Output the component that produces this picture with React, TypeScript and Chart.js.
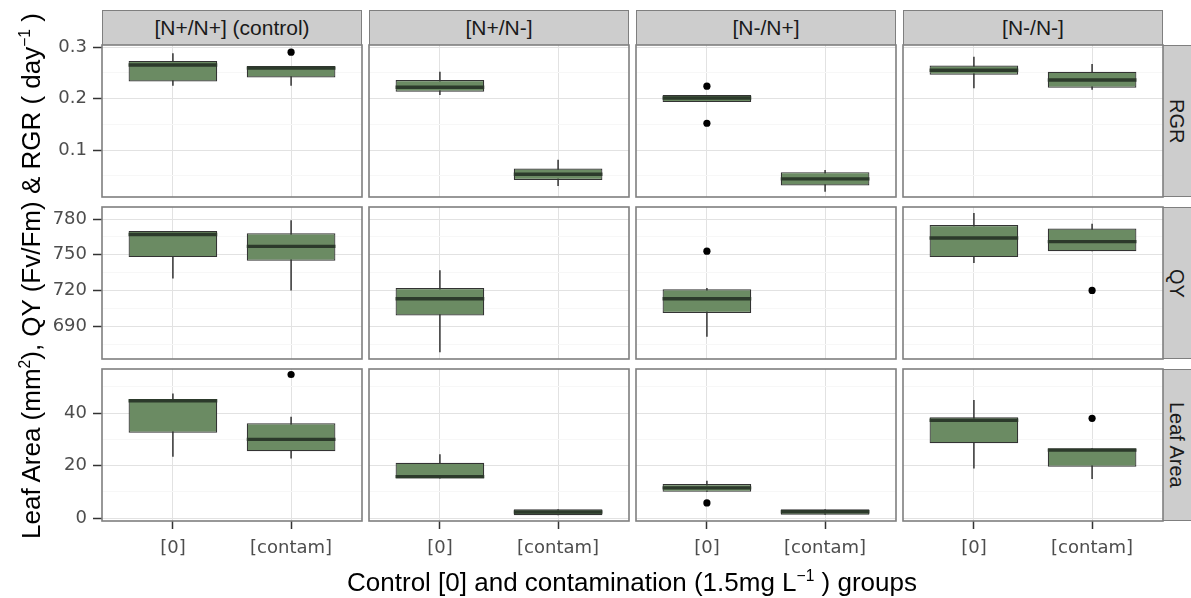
import React, { useEffect, useRef } from 'react';
import { Chart, registerables } from 'chart.js';

Chart.register(...registerables);

// ---------------- data ----------------
const GROUPS = ['[N+/N+] (control)', '[N+/N-]', '[N-/N+]', '[N-/N-]'];
const METRICS = ['RGR', 'QY', 'Leaf Area'];
const X_LABELS = ['[0]', '[contam]'];
const X_POS = [1, 2];

// five-number summaries per facet: [control, contam], each [lower whisker, Q1, median, Q3, upper whisker]
const RGR_BOX = [
  [[0.225, 0.233, 0.265, 0.273, 0.288], [0.225, 0.241, 0.259, 0.263, 0.263]],
  [[0.207, 0.213, 0.222, 0.236, 0.252], [0.030, 0.042, 0.053, 0.064, 0.081]],
  [[0.193, 0.193, 0.201, 0.207, 0.207], [0.019, 0.031, 0.044, 0.057, 0.061]],
  [[0.220, 0.246, 0.255, 0.264, 0.281], [0.217, 0.221, 0.236, 0.252, 0.267]],
];
const RGR_OUT = [[[], [0.290]], [[], []], [[0.224, 0.152], []], [[], []]];

const QY_BOX = [
  [[730, 748, 767, 770, 770], [720, 745, 757, 768, 779]],
  [[668, 699, 713, 722, 737], null],
  [[681, 701, 713, 721, 722], null],
  [[743, 748, 764, 775, 785], [753, 753, 761, 772, 776]],
];
const QY_OUT = [[[], []], [[], []], [[753], []], [[], [720]]];

const LA_BOX = [
  [[23.4, 32.5, 44.7, 45.3, 47.5], [22.7, 25.5, 30.0, 36.1, 38.6]],
  [[15.1, 15.1, 15.8, 21.1, 24.3], [1.1, 1.1, 2.3, 3.4, 3.4]],
  [[10.0, 10.0, 11.5, 13.0, 14.2], [1.3, 1.3, 2.4, 3.4, 3.4]],
  [[18.9, 28.5, 37.3, 38.4, 45.0], [14.9, 19.6, 25.9, 26.6, 26.6]],
];
const LA_OUT = [[[], [54.7]], [[], []], [[5.8], []], [[], [38.0]]];

const Y_MAJOR = [[0.1, 0.2, 0.3], [690, 720, 750, 780], [0, 20, 40]];
const Y_MINOR = [[0.05, 0.15, 0.25], [675, 705, 735, 765], [10, 30, 50]];
const Y_RANGE = [[0.0088, 0.3039], [662.4, 790.1], [-1.1, 56.8]];

const BOXES = [RGR_BOX, QY_BOX, LA_BOX];
const OUTS = [RGR_OUT, QY_OUT, LA_OUT];

// ---------------- style / layout ----------------
const FONT = "'Liberation Sans', Arial, Helvetica, sans-serif";
const TICK_FONT = "'DejaVu Sans', 'Liberation Sans', sans-serif";
const BOX_W = 0.75;
const BOX_FILL = '#6b8b63';
const DARK = '#333333';
const MEDIAN = '#2c3a2b';
const GRID_MAJOR = '#e2e2e2';
const GRID_MINOR = '#f7f7f7';
const BORDER = '#7f7f7f';
const STRIP_FILL = '#cdcdcd';

const PL = [102, 369, 636, 903];
const PW = 260;
const PT = [45, 207, 369];
const PH = 152;
const PAD = 14;
const YW = 66;
const XH = 50;

const panelPlugin = {
  id: 'panelFrame',
  beforeDraw(chart: any) {
    const { ctx, chartArea: a } = chart;
    ctx.save();
    ctx.fillStyle = '#ffffff';
    ctx.fillRect(a.left, a.top, a.right - a.left, a.bottom - a.top);
    ctx.restore();
  },
  afterDraw(chart: any) {
    const { ctx, chartArea: a } = chart;
    ctx.save();
    ctx.strokeStyle = BORDER;
    ctx.lineWidth = 1.6;
    ctx.strokeRect(a.left, a.top, a.right - a.left, a.bottom - a.top);
    ctx.restore();
  },
};

function makeConfig(r: number, c: number): any {
  const boxes = BOXES[r][c];
  const outs = OUTS[r][c];
  const boxData: any[] = [];
  const whisk: any[] = [];
  const med: any[] = [];
  const pts: any[] = [];
  boxes.forEach((b: number[] | null, i: number) => {
    if (!b) return;
    const x = X_POS[i];
    boxData.push({ x, y: [b[1], b[3]] });
    whisk.push({ x, y: b[0] }, { x, y: b[4] }, { x: x + 0.5, y: null });
    med.push({ x: x - BOX_W / 2, y: b[2] }, { x: x + BOX_W / 2, y: b[2] }, { x: x + 0.5, y: null });
    outs[i].forEach((v: number) => pts.push({ x, y: v }));
  });
  const major = Y_MAJOR[r];
  const minor = Y_MINOR[r];
  const isMinor = (v: number) => minor.some((m) => Math.abs(m - v) < 1e-9);
  const tickFont = { family: TICK_FONT, size: 18 };

  return {
    type: 'bar',
    data: {
      datasets: [
        {
          type: 'line',
          data: whisk,
          borderColor: DARK,
          borderWidth: 1.5,
          pointRadius: 0,
          spanGaps: false,
          order: 4,
        },
        {
          type: 'bar',
          data: boxData,
          backgroundColor: BOX_FILL,
          borderColor: DARK,
          borderWidth: 1.2,
          borderSkipped: false,
          barPercentage: BOX_W,
          categoryPercentage: 1,
          grouped: false,
          order: 3,
        },
        {
          type: 'line',
          data: med,
          borderColor: MEDIAN,
          borderWidth: 3.4,
          pointRadius: 0,
          spanGaps: false,
          order: 2,
        },
        {
          type: 'line',
          data: pts,
          showLine: false,
          pointRadius: 3.6,
          pointBackgroundColor: '#000000',
          pointBorderWidth: 0,
          order: 1,
        },
      ],
    },
    options: {
      responsive: false,
      animation: false,
      events: [],
      layout: { padding: { left: PAD, right: PAD, top: PAD, bottom: PAD } },
      plugins: { legend: { display: false }, tooltip: { enabled: false } },
      scales: {
        x: {
          type: 'linear',
          min: 0.4,
          max: 2.6,
          offset: false,
          bounds: 'data',
          afterBuildTicks: (s: any) => {
            s.ticks = X_POS.map((v) => ({ value: v }));
          },
          afterFit: (s: any) => {
            s.height = r === 2 ? XH : 0;
            s.paddingLeft = 0;
            s.paddingRight = 0;
          },
          ticks: {
            display: r === 2,
            autoSkip: false,
            maxRotation: 0,
            padding: 9,
            color: '#4d4d4d',
            font: tickFont,
            callback: (v: number) => {
              const i = X_POS.indexOf(v);
              return i >= 0 ? X_LABELS[i] : '';
            },
          },
          grid: {
            offset: false,
            color: GRID_MAJOR,
            lineWidth: 1,
            drawTicks: r === 2,
            tickLength: 8,
            tickColor: DARK,
            tickWidth: 1.5,
          },
          border: { display: false },
        },
        y: {
          type: 'linear',
          min: Y_RANGE[r][0],
          max: Y_RANGE[r][1],
          bounds: 'data',
          afterBuildTicks: (s: any) => {
            s.ticks = [...major, ...minor].sort((a, b) => a - b).map((v) => ({ value: v }));
          },
          afterFit: (s: any) => {
            s.width = c === 0 ? YW : 0;
            s.paddingTop = 0;
            s.paddingBottom = 0;
          },
          ticks: {
            display: c === 0,
            autoSkip: false,
            padding: 6,
            color: '#4d4d4d',
            font: tickFont,
            callback: (v: number) => (isMinor(v) ? '' : String(v)),
          },
          grid: {
            color: (ctx: any) => (ctx.tick && isMinor(ctx.tick.value) ? GRID_MINOR : GRID_MAJOR),
            lineWidth: 1,
            drawTicks: c === 0,
            tickLength: 9,
            tickColor: (ctx: any) => (ctx.tick && isMinor(ctx.tick.value) ? 'rgba(0,0,0,0)' : DARK),
            tickWidth: 1.5,
          },
          border: { display: false },
        },
      },
    },
    plugins: [panelPlugin],
  };
}

function Facet({ r, c }: { r: number; c: number }) {
  const ref = useRef<HTMLCanvasElement>(null);
  const left = PL[c] - PAD - (c === 0 ? YW : 0);
  const top = PT[r] - PAD;
  const w = PW + 2 * PAD + (c === 0 ? YW : 0);
  const h = PH + 2 * PAD + (r === 2 ? XH : 0);
  useEffect(() => {
    const chart = new Chart(ref.current as HTMLCanvasElement, makeConfig(r, c));
    return () => chart.destroy();
  }, [r, c]);
  return (
    <canvas
      ref={ref}
      width={w}
      height={h}
      style={{ position: 'absolute', left, top, width: w, height: h, display: 'block' }}
    />
  );
}

export default function App() {
  const facets: React.ReactNode[] = [];
  METRICS.forEach((_, r) => {
    GROUPS.forEach((__, c) => {
      facets.push(<Facet key={`${r}-${c}`} r={r} c={c} />);
    });
  });
  return (
    <div
      style={{
        position: 'fixed',
        left: 0,
        top: 0,
        width: 1191,
        height: 598,
        background: '#ffffff',
        overflow: 'hidden',
        fontFamily: FONT,
      }}
    >
      {GROUPS.map((g, c) => (
        <div
          key={g}
          style={{
            position: 'absolute',
            left: PL[c],
            top: 10,
            width: PW,
            height: 35,
            boxSizing: 'border-box',
            background: STRIP_FILL,
            border: `1.6px solid ${BORDER}`,
            borderBottom: 'none',
            display: 'flex',
            alignItems: 'center',
            justifyContent: 'center',
            fontSize: 21,
            color: '#1a1a1a',
            whiteSpace: 'nowrap',
          }}
        >
          {g}
        </div>
      ))}
      {METRICS.map((m, r) => (
        <div
          key={m}
          style={{
            position: 'absolute',
            left: PL[3] + PW,
            top: PT[r],
            width: 34,
            height: PH,
            boxSizing: 'border-box',
            background: STRIP_FILL,
            border: `1.6px solid ${BORDER}`,
            borderLeft: 'none',
            display: 'flex',
            alignItems: 'center',
            justifyContent: 'center',
          }}
        >
          <div
            style={{
              writingMode: 'vertical-rl',
              fontSize: 20,
              color: '#1a1a1a',
              whiteSpace: 'nowrap',
              marginRight: 6,
            }}
          >
            {m}
          </div>
        </div>
      ))}
      {facets}
      <div
        style={{
          position: 'absolute',
          left: 31 - 320,
          top: 276 - 16,
          width: 640,
          height: 32,
          lineHeight: '32px',
          textAlign: 'center',
          fontSize: 26,
          color: '#000',
          whiteSpace: 'nowrap',
          transform: 'rotate(-90deg)',
          transformOrigin: '50% 50%',
        }}
      >
        Leaf Area (mm<sup style={{ fontSize: '0.6em', lineHeight: 0 }}>2</sup>), QY (Fv/Fm) &amp; RGR ( day
        <sup style={{ fontSize: '0.6em', lineHeight: 0 }}>−1</sup> )
      </div>
      <div
        style={{
          position: 'absolute',
          left: 632 - 400,
          top: 567,
          width: 800,
          height: 30,
          lineHeight: '30px',
          textAlign: 'center',
          fontSize: 26,
          color: '#000',
          whiteSpace: 'nowrap',
        }}
      >
        Control [0] and contamination (1.5mg L<sup style={{ fontSize: '0.6em', lineHeight: 0 }}>−1</sup> ) groups
      </div>
    </div>
  );
}
